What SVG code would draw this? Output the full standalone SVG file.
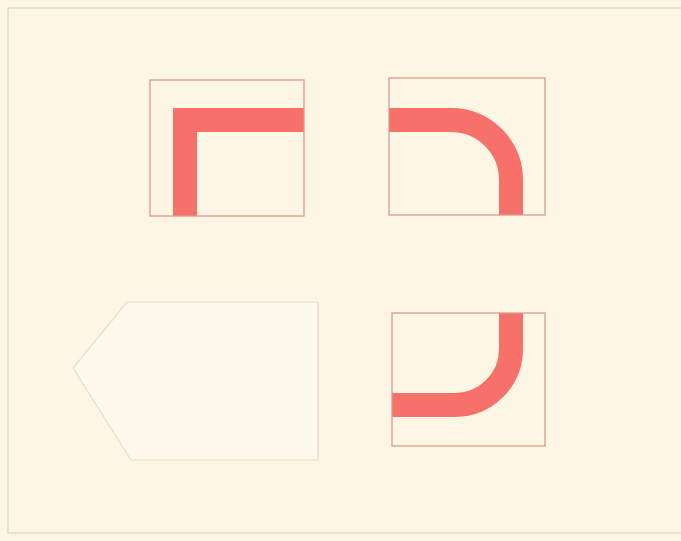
<svg xmlns="http://www.w3.org/2000/svg" width="681" height="541" viewBox="0 0 681 541">
<style>
.frame{fill:none;stroke:#e3dacb;stroke-width:1.5}
.box{fill:none;stroke:#d99a8c;stroke-width:1.3}
.band{fill:none;stroke:#f7716a;stroke-width:24}
.tag{fill:#fef9ec;stroke:#ecd9cc;stroke-width:1.2}
</style>
<rect x="0" y="0" width="681" height="541" fill="#fef6e5"/>
<path class="frame" d="M8,8 H681 M8,8 V533 H681"/>
<g id="square-corner">
<path class="band" d="M185,216 V120 H304"/>
<rect class="box" x="150" y="80" width="154" height="136"/>
</g>
<g id="round-corner-top">
<path class="band" d="M389,120 H451 A60,60 0 0 1 511,180 V215"/>
<rect class="box" x="389" y="78" width="156" height="137"/>
</g>
<g id="round-corner-bottom">
<path class="band" d="M511,313 V349 A56,56 0 0 1 455,405 H392"/>
<rect class="box" x="392" y="313" width="153" height="133"/>
</g>
<g id="tag">
<path class="tag" d="M127,302 H318 V460 H131 L73,368 Z"/>
</g>
<g id="connectors"/>
</svg>
